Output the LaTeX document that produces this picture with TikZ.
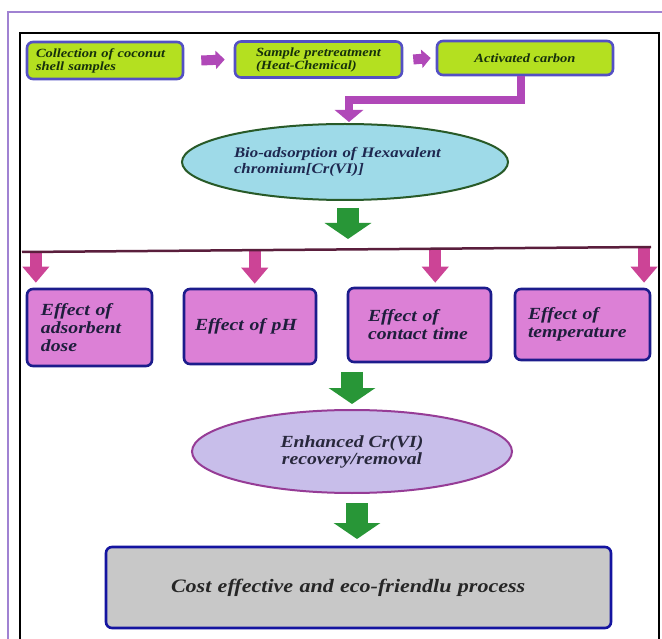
\documentclass[tikz,border=0pt]{standalone}
\usepackage{fontspec}
\newfontfamily\dfont{Liberation Serif}[FakeStretch=1.16]
\usetikzlibrary{arrows.meta,shapes.geometric,calc}
\definecolor{frameP}{RGB}{160,130,210}
\definecolor{limefill}{RGB}{180,224,32}
\definecolor{topborder}{RGB}{84,80,196}
\definecolor{toptext}{RGB}{22,48,12}
\definecolor{parrow}{RGB}{176,72,184}
\definecolor{eonefill}{RGB}{158,218,232}
\definecolor{eoneborder}{RGB}{40,90,40}
\definecolor{eonetext}{RGB}{30,40,80}
\definecolor{garrow}{RGB}{40,150,55}
\definecolor{hlinec}{RGB}{90,30,60}
\definecolor{pinkc}{RGB}{204,68,150}
\definecolor{orchidfill}{RGB}{220,128,214}
\definecolor{effborder}{RGB}{28,28,140}
\definecolor{efftext}{RGB}{30,30,60}
\definecolor{etwofill}{RGB}{200,190,234}
\definecolor{etwoborder}{RGB}{150,60,150}
\definecolor{etwotext}{RGB}{40,40,60}
\definecolor{grayfill}{RGB}{200,200,200}
\definecolor{grayborder}{RGB}{20,20,160}
\begin{document}
\begin{tikzpicture}[x=1pt,y=-1pt,
  topbox/.style={draw=topborder, fill=limefill, line width=2.6pt, rounded corners=6pt,
    inner ysep=0pt, text=toptext, align=left,
    font={\dfont\bfseries\itshape\fontsize{12.5}{13}\selectfont}},
  effbox/.style={draw=effborder, fill=orchidfill, line width=2.6pt, rounded corners=6pt,
    inner ysep=0pt, text=efftext, align=left,
    font={\dfont\bfseries\itshape\fontsize{17}{18}\selectfont}},
  parr/.style={draw=parrow, line width=10pt, -{Triangle[length=9pt,width=18pt]}},
  garr/.style={draw=garrow, line width=22pt, -{Triangle[length=16pt,width=46pt]}},
  pkarr/.style={draw=pinkc, line width=12pt, -{Triangle[length=16pt,width=26pt]}}]
\useasboundingbox (0,0) rectangle (662,639);
\fill[white] (0,0) rectangle (662,639);
\draw[frameP, line width=1.5pt] (8,639) -- (8,12) -- (662,12);
\draw[black, line width=2pt] (20,645) -- (20,33) -- (659,33) -- (659,645);

% top row
\node[topbox, inner xsep=9pt, text width=138pt, minimum height=37pt] (b1) at (105,60.5)
  {Collection of coconut\\shell samples};
\node[topbox, inner xsep=21pt, text width=125pt, minimum height=36pt] (b2) at (318.5,59.5)
  {Sample pretreatment\\(Heat-Chemical)};
\node[topbox, align=center, minimum width=176pt, minimum height=34pt] (b3) at (525,58)
  {Activated carbon};

\draw[parr] ([xshift=17pt]b1.east) -- ([xshift=-9pt]b2.west);
\draw[parr] ([xshift=10pt]b2.east) -- ([xshift=-5pt]b3.west);

% ellipse 1
\node[ellipse, draw=eoneborder, fill=eonefill, line width=2pt, minimum width=326pt,
  minimum height=76pt, inner sep=0pt, text width=222pt, align=left, text=eonetext,
  font={\dfont\bfseries\itshape\fontsize{14.5}{16}\selectfont\hyphenpenalty=10000}] (e1) at (345,162)
  {Bio-adsorption of Hexavalent\\chromium[Cr(VI)]};

\draw[draw=parrow, line width=8pt, line join=miter, -{Triangle[length=12pt,width=28pt]}]
  ([xshift=-4pt]b3.south) -- ++(0,24) -| ($(e1.north)+(4,-1)$);

% green arrow 1
\coordinate (g1s) at ($(e1.south)+(3,7)$);
\coordinate (g1e) at ($(e1.south)+(3,38)$);
\draw[garr] (g1s) -- (g1e);

% effect boxes
\node[effbox, inner xsep=14pt, text width=97pt, minimum height=77pt] (A) at (89.5,327.5)
  {Effect of\\adsorbent\\dose};
\node[effbox, inner xsep=11pt, text width=110pt, minimum height=75pt] (B) at (250,326.5)
  {Effect of pH};
\node[effbox, inner xsep=20pt, text width=103pt, minimum height=74pt] (C) at (419.5,325)
  {Effect of\\contact time};
\node[effbox, inner xsep=13pt, text width=109pt, minimum height=71pt] (D) at (582.5,324.5)
  {Effect of\\temperature};

% distribution line and pink arrows
\coordinate (hl) at (22,252);
\coordinate (hr) at (651,247);
\coordinate (p1) at ($(hl)!0.022!(hr)$);
\coordinate (p2) at ($(hl)!0.370!(hr)$);
\coordinate (p3) at ($(hl)!0.657!(hr)$);
\coordinate (p4) at ($(hl)!0.989!(hr)$);
\draw[pkarr] (p1) -- ($(p1 |- A.north)+(0,-5)$);
\draw[pkarr] (p2) -- ($(p2 |- B.north)+(0,-4)$);
\draw[pkarr] (p3) -- ($(p3 |- C.north)+(0,-4)$);
\draw[pkarr] (p4) -- ($(p4 |- D.north)+(0,-5)$);
\draw[hlinec, line width=2.5pt] (hl) -- (hr);

% ellipse 2
\node[ellipse, draw=etwoborder, fill=etwofill, line width=2pt, minimum width=320pt,
  minimum height=83pt, inner sep=0pt, align=center, text=etwotext,
  font={\dfont\bfseries\itshape\fontsize{17}{17}\selectfont}] (e2) at (352,451.5)
  {Enhanced Cr(VI)\\recovery/removal};

\coordinate (g2s) at ($(e2.north)+(0,-37)$);
\coordinate (g2e) at ($(e2.north)+(0,-5)$);
\draw[garr] (g2s) -- (g2e);

% final box
\node[draw=grayborder, fill=grayfill, line width=2.6pt, rounded corners=6pt,
  inner xsep=65pt, text width=375pt, align=left, minimum height=81pt, text=black!85,
  font={\dfont\bfseries\itshape\fontsize{19}{20}\selectfont}] (G) at (358.5,587.5)
  {Cost effective and eco-friendlu process};

\coordinate (g3s) at ($(e2.south)+(5,9)$);
\coordinate (g3e) at ($(e2.south)+(5,45)$);
\draw[garr] (g3s) -- (g3e);
\end{tikzpicture}
\end{document}
